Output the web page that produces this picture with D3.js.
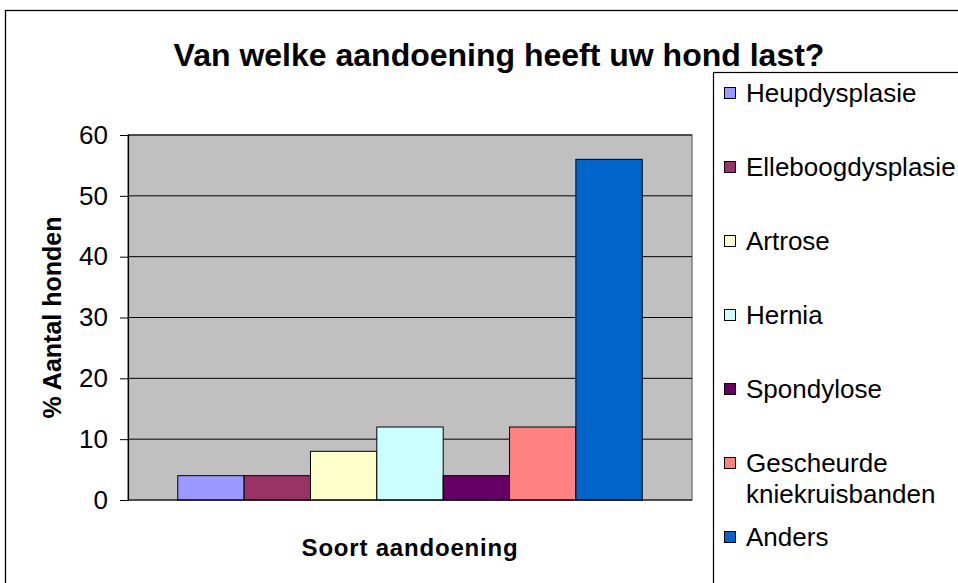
<!DOCTYPE html>
<html>
<head>
<meta charset="utf-8">
<script src="https://cdn.jsdelivr.net/npm/d3@7"></script>
<style>
  body { margin: 0; background: #fff; }
  text { font-family: "Liberation Sans", Arial, sans-serif; }
</style>
</head>
<body>
<div id="app"></div>
<script>
// data
const categories = ["Heupdysplasie", "Elleboogdysplasie", "Artrose", "Hernia", "Spondylose", "Gescheurde kniekruisbanden", "Anders"];
const values = [4, 4, 8, 12, 4, 12, 56];
const colors = ["#9999FF", "#993366", "#FFFFCC", "#CCFFFF", "#660066", "#FF8080", "#0066CC"];
const yTicks = [0, 10, 20, 30, 40, 50, 60];
const legendLines = [["Heupdysplasie"], ["Elleboogdysplasie"], ["Artrose"], ["Hernia"], ["Spondylose"], ["Gescheurde", "kniekruisbanden"], ["Anders"]];

var w = 958, h = 583;
const plotL = 128, plotR = 692, plotT = 135, plotB = 500;

const svg = d3.select("#app")
    .append("svg")
    .attr("width", w)
    .attr("height", h)

// chart border
svg.append("rect")
    .attr("x", 5.5).attr("y", 10.5)
    .attr("width", 1100).attr("height", 700)
    .attr("fill", "#fff")
    .attr("stroke", "#000").attr("stroke-width", 1.3)

svg.append("text")
    .attr("x", 499).attr("y", 66)
    .attr("text-anchor", "middle")
    .style("font-size", "32px").style("font-weight", "bold")
    .text("Van welke aandoening heeft uw hond last?")

const yScale = d3.scaleLinear().domain([0, 60]).range([plotB, plotT])

// one category, 7 series, gap width 150%
const xScale = d3.scaleBand()
    .domain(categories)
    .range([plotL, plotR])
    .paddingOuter(0.75)
    .paddingInner(0)

svg.append("rect")
    .attr("x", plotL).attr("y", plotT)
    .attr("width", plotR - plotL).attr("height", plotB - plotT)
    .attr("fill", "#C0C0C0")
    .attr("stroke", "#808080").attr("stroke-width", 1.5)

svg.append("g")
    .selectAll("line")
    .data(yTicks.filter(d => d > 0))
    .enter()
    .append("line")
    .attr("x1", plotL).attr("x2", plotR)
    .attr("y1", d => yScale(d)).attr("y2", d => yScale(d))
    .attr("stroke", "#000").attr("stroke-width", 1)

svg.selectAll(".bar")
    .data(values)
    .enter()
    .append("rect")
    .attr("class", "bar")
    .attr("x", (d, i) => xScale(categories[i]))
    .attr("y", d => yScale(d))
    .attr("width", xScale.bandwidth())
    .attr("height", d => plotB - yScale(d))
    .attr("fill", (d, i) => colors[i])
    .attr("stroke", "#000").attr("stroke-width", 1)

const yAxis = d3.axisLeft(yScale)
    .tickValues(yTicks)
    .tickSize(8)
    .tickPadding(12)

const yg = svg.append("g")
    .attr("transform", "translate(" + plotL + ",0)")
    .call(yAxis)
yg.select(".domain").attr("stroke", "#000").attr("stroke-width", 1.2)
yg.selectAll(".tick line").attr("stroke", "#000")
yg.selectAll(".tick text")
    .style("font-size", "26px")
    .attr("fill", "#000")
    .style("font-family", "Liberation Sans, Arial, sans-serif")

svg.append("line")
    .attr("x1", plotL).attr("x2", plotR)
    .attr("y1", plotB).attr("y2", plotB)
    .attr("stroke", "#000").attr("stroke-width", 1.2)

svg.append("text")
    .attr("transform", "translate(61," + ((plotT + plotB) / 2) + ") rotate(-90)")
    .attr("text-anchor", "middle")
    .style("font-size", "25px").style("font-weight", "bold")
    .text("% Aantal honden")

svg.append("text")
    .attr("x", (plotL + plotR) / 2).attr("y", 556)
    .attr("text-anchor", "middle")
    .style("font-size", "24px").style("font-weight", "bold")
    .style("letter-spacing", "0.8px")
    .text("Soort aandoening")

// legend
const legend = svg.append("g")
legend.append("rect")
    .attr("x", 713.5).attr("y", 72.5)
    .attr("width", 400).attr("height", 600)
    .attr("fill", "#fff")
    .attr("stroke", "#000").attr("stroke-width", 1.2)

const legY = d3.scalePoint().domain(categories).range([93, 537])

const item = legend.selectAll(".leg")
    .data(categories)
    .enter()
    .append("g")
    .attr("class", "leg")
    .attr("transform", d => "translate(0," + legY(d) + ")")

item.append("rect")
    .attr("x", 724.5).attr("y", -5.5)
    .attr("width", 11).attr("height", 11)
    .attr("fill", (d, i) => colors[i])
    .attr("stroke", "#000").attr("stroke-width", 1)

item.append("text")
    .attr("x", 746)
    .attr("y", 9)
    .style("font-size", "26px")
    .selectAll("tspan")
    .data((d, i) => legendLines[i])
    .enter()
    .append("tspan")
    .attr("x", 746)
    .attr("dy", (d, j) => j == 0 ? 0 : 31)
    .text(d => d)
</script>
</body>
</html>
